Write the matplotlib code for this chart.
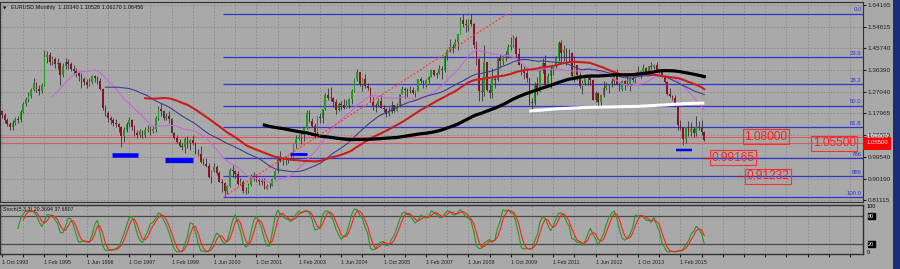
import numpy as np
import pandas as pd
import matplotlib
matplotlib.use("Agg")
import matplotlib.pyplot as plt
from matplotlib.patches import Rectangle

plt.rcParams['font.family'] = ['Liberation Sans', 'DejaVu Sans']

# monthly EURUSD, Oct 1993 .. Nov 2015 (one row per calendar year)
closes = [
    1.175, 1.150, 1.135,
    1.120, 1.140, 1.155, 1.150, 1.185, 1.220, 1.240, 1.255, 1.280, 1.310, 1.285, 1.275,
    1.300, 1.420, 1.430, 1.400, 1.410, 1.390, 1.395, 1.345, 1.380, 1.400, 1.390, 1.370,
    1.360, 1.350, 1.340, 1.325, 1.315, 1.300, 1.315, 1.340, 1.330, 1.320, 1.285, 1.205,
    1.180, 1.160, 1.150, 1.140, 1.135, 1.120, 1.085, 1.110, 1.135, 1.150, 1.120, 1.095,
    1.090, 1.105, 1.090, 1.110, 1.115, 1.105, 1.115, 1.160, 1.200, 1.190, 1.160, 1.170,
    1.158, 1.0985, 1.077, 1.057, 1.042, 1.035, 1.070, 1.053, 1.068, 1.056, 1.009, 1.007,
    0.971, 0.966, 0.956, 0.910, 0.933, 0.952, 0.927, 0.889, 0.884, 0.850, 0.869, 0.940,
    0.936, 0.922, 0.881, 0.887, 0.848, 0.849, 0.877, 0.912, 0.913, 0.901, 0.890, 0.888,
    0.860, 0.869, 0.872, 0.902, 0.933, 0.986, 0.977, 0.981, 0.986, 0.989, 0.992, 1.049,
    1.073, 1.078, 1.090, 1.117, 1.181, 1.149, 1.125, 1.099, 1.164, 1.160, 1.200, 1.259,
    1.246, 1.246, 1.230, 1.196, 1.220, 1.217, 1.202, 1.217, 1.243, 1.275, 1.327, 1.355,
    1.304, 1.325, 1.296, 1.287, 1.230, 1.210, 1.215, 1.234, 1.205, 1.199, 1.179, 1.184,
    1.216, 1.192, 1.211, 1.262, 1.282, 1.279, 1.277, 1.281, 1.267, 1.276, 1.325, 1.320,
    1.302, 1.323, 1.335, 1.366, 1.345, 1.354, 1.369, 1.365, 1.426, 1.449, 1.462, 1.459,
    1.486, 1.518, 1.578, 1.560, 1.555, 1.576, 1.561, 1.470, 1.410, 1.276, 1.270, 1.397,
    1.280, 1.267, 1.325, 1.323, 1.415, 1.404, 1.426, 1.433, 1.464, 1.472, 1.501, 1.433,
    1.387, 1.363, 1.351, 1.329, 1.229, 1.223, 1.305, 1.270, 1.363, 1.394, 1.299, 1.338,
    1.369, 1.380, 1.416, 1.481, 1.439, 1.450, 1.439, 1.437, 1.339, 1.387, 1.345, 1.296,
    1.308, 1.333, 1.334, 1.324, 1.237, 1.266, 1.230, 1.258, 1.286, 1.296, 1.299, 1.319,
    1.358, 1.306, 1.282, 1.317, 1.299, 1.301, 1.330, 1.322, 1.352, 1.358, 1.359, 1.375,
    1.349, 1.380, 1.377, 1.387, 1.363, 1.369, 1.339, 1.313, 1.263, 1.253, 1.245, 1.210,
    1.129, 1.119, 1.073, 1.122, 1.099, 1.115, 1.098, 1.121, 1.118, 1.100, 1.0646,
]
highs = [
    1.195, 1.180, 1.160,
    1.145, 1.150, 1.165, 1.170, 1.195, 1.230, 1.250, 1.270, 1.290, 1.330, 1.315, 1.300,
    1.310, 1.450, 1.445, 1.440, 1.425, 1.420, 1.415, 1.400, 1.395, 1.415, 1.410, 1.400,
    1.385, 1.375, 1.360, 1.350, 1.335, 1.325, 1.330, 1.345, 1.345, 1.340, 1.330, 1.290,
    1.215, 1.190, 1.170, 1.160, 1.155, 1.140, 1.125, 1.120, 1.145, 1.165, 1.155, 1.130,
    1.110, 1.115, 1.110, 1.120, 1.130, 1.125, 1.125, 1.170, 1.210, 1.225, 1.195, 1.180,
    1.190, 1.162, 1.100, 1.089, 1.071, 1.053, 1.079, 1.083, 1.071, 1.088, 1.060, 1.029,
    1.041, 0.989, 0.990, 0.970, 0.938, 0.969, 0.959, 0.934, 0.901, 0.887, 0.873, 0.946,
    0.959, 0.939, 0.933, 0.905, 0.896, 0.866, 0.882, 0.920, 0.932, 0.923, 0.905, 0.906,
    0.903, 0.879, 0.885, 0.905, 0.937, 0.999, 1.018, 0.990, 0.999, 0.993, 1.014, 1.051,
    1.089, 1.093, 1.108, 1.120, 1.193, 1.193, 1.160, 1.141, 1.168, 1.181, 1.200, 1.265,
    1.290, 1.293, 1.248, 1.241, 1.229, 1.232, 1.242, 1.239, 1.244, 1.282, 1.332, 1.367,
    1.356, 1.329, 1.348, 1.310, 1.293, 1.249, 1.226, 1.246, 1.260, 1.215, 1.203, 1.209,
    1.233, 1.216, 1.224, 1.264, 1.298, 1.293, 1.288, 1.296, 1.291, 1.281, 1.328, 1.337,
    1.323, 1.328, 1.339, 1.368, 1.364, 1.356, 1.385, 1.381, 1.428, 1.453, 1.497, 1.475,
    1.495, 1.520, 1.591, 1.602, 1.582, 1.580, 1.604, 1.565, 1.487, 1.417, 1.331, 1.472,
    1.400, 1.305, 1.374, 1.344, 1.415, 1.434, 1.430, 1.445, 1.477, 1.506, 1.514, 1.510,
    1.458, 1.396, 1.382, 1.370, 1.330, 1.247, 1.312, 1.333, 1.368, 1.416, 1.428, 1.350,
    1.386, 1.386, 1.425, 1.488, 1.494, 1.470, 1.458, 1.455, 1.441, 1.425, 1.387, 1.356,
    1.324, 1.349, 1.339, 1.337, 1.328, 1.275, 1.269, 1.264, 1.317, 1.314, 1.301, 1.331,
    1.359, 1.371, 1.312, 1.324, 1.324, 1.342, 1.335, 1.345, 1.357, 1.383, 1.362, 1.389,
    1.378, 1.382, 1.397, 1.391, 1.399, 1.370, 1.370, 1.344, 1.320, 1.289, 1.260, 1.257,
    1.210, 1.153, 1.123, 1.124, 1.146, 1.144, 1.121, 1.171, 1.146, 1.150, 1.1053,
]
lows = [
    1.160, 1.140, 1.125,
    1.110, 1.110, 1.130, 1.140, 1.145, 1.180, 1.210, 1.230, 1.245, 1.275, 1.270, 1.260,
    1.265, 1.295, 1.395, 1.385, 1.385, 1.375, 1.370, 1.300, 1.335, 1.370, 1.370, 1.360,
    1.345, 1.335, 1.320, 1.290, 1.300, 1.290, 1.295, 1.305, 1.315, 1.305, 1.280, 1.195,
    1.170, 1.145, 1.135, 1.125, 1.120, 1.100, 1.035, 1.060, 1.100, 1.120, 1.110, 1.085,
    1.075, 1.080, 1.075, 1.080, 1.100, 1.090, 1.095, 1.100, 1.150, 1.170, 1.150, 1.150,
    1.139, 1.096, 1.069, 1.055, 1.037, 1.023, 1.012, 1.031, 1.022, 1.047, 1.005, 0.999,
    0.968, 0.961, 0.951, 0.903, 0.884, 0.931, 0.916, 0.887, 0.845, 0.823, 0.836, 0.865,
    0.908, 0.905, 0.874, 0.873, 0.843, 0.835, 0.841, 0.871, 0.892, 0.888, 0.876, 0.876,
    0.858, 0.856, 0.862, 0.872, 0.899, 0.926, 0.973, 0.959, 0.962, 0.969, 0.986, 0.986,
    1.033, 1.068, 1.050, 1.062, 1.113, 1.142, 1.120, 1.077, 1.079, 1.140, 1.138, 1.195,
    1.235, 1.234, 1.209, 1.176, 1.190, 1.196, 1.200, 1.204, 1.205, 1.220, 1.273, 1.316,
    1.295, 1.276, 1.288, 1.278, 1.229, 1.195, 1.187, 1.208, 1.203, 1.187, 1.164, 1.171,
    1.182, 1.185, 1.192, 1.206, 1.263, 1.246, 1.248, 1.265, 1.263, 1.248, 1.275, 1.310,
    1.286, 1.293, 1.308, 1.333, 1.341, 1.330, 1.347, 1.326, 1.358, 1.408, 1.442, 1.437,
    1.458, 1.451, 1.517, 1.550, 1.528, 1.529, 1.552, 1.460, 1.388, 1.233, 1.232, 1.256,
    1.274, 1.246, 1.245, 1.288, 1.320, 1.375, 1.386, 1.404, 1.418, 1.449, 1.462, 1.422,
    1.386, 1.344, 1.327, 1.312, 1.214, 1.188, 1.215, 1.259, 1.269, 1.352, 1.297, 1.294,
    1.287, 1.343, 1.374, 1.404, 1.397, 1.402, 1.384, 1.405, 1.336, 1.315, 1.321, 1.286,
    1.262, 1.301, 1.300, 1.300, 1.235, 1.229, 1.204, 1.213, 1.251, 1.280, 1.266, 1.292,
    1.300, 1.302, 1.275, 1.274, 1.279, 1.298, 1.275, 1.314, 1.310, 1.348, 1.329, 1.353,
    1.348, 1.348, 1.370, 1.367, 1.359, 1.350, 1.337, 1.311, 1.257, 1.250, 1.236, 1.210,
    1.110, 1.110, 1.046, 1.052, 1.082, 1.082, 1.081, 1.085, 1.109, 1.089, 1.0617,
]
first_open = 1.190

date_labels = ["1 Oct 1993", "1 Feb 1995", "1 Jun 1996", "1 Oct 1997", "1 Feb 1999",
               "1 Jun 2000", "1 Oct 2001", "1 Feb 2003", "1 Jun 2004", "1 Oct 2005",
               "1 Feb 2007", "1 Jun 2008", "1 Oct 2009", "1 Feb 2011", "1 Jun 2012",
               "1 Oct 2013", "1 Feb 2015"]
price_ticks = [1.64165, 1.54815, 1.45740, 1.36390, 1.27040, 1.17965, 1.08890,
               0.99540, 0.90190, 0.81115]

ma_periods = [20, 40, 55, 100]
fib_high, fib_low = 1.6038, 0.8228
fib_levels = [0.0, 23.6, 38.2, 50.0, 61.8, 78.6, 88.6, 100.0]
fib_names = ["0.0", "23.6", "38.2", "50.0", "61.8", "786", "886", "100.0"]
red_levels = [1.08, 1.055]
# (first month, last month, price, thickness px)
support_marks = [(41.4, 51.4, 1.003, 4.5), (61.5, 72.1, 0.981, 5.3),
                 (108.7, 115.1, 1.009, 3.0), (254.3, 260.4, 1.022, 2.5)]
trend_pts = [(84, 0.827), (190.5, 1.603)]
white_pts = [(199, 1.190), (210, 1.200), (222, 1.206), (240, 1.210),
             (250, 1.216), (258, 1.222), (265, 1.224)]
# (text, month of box centre, price, short line start, short line end)
level_boxes = [("1.08000", 288.3, 1.080, None, None),
               ("1.05500", 314.0, 1.052, None, None),
               ("0.99165", 276.0, 0.99165, 264.6, 266.9),
               ("0.91232", 289.0, 0.91232, 277.4, 279.7)]

BG = '#a9a9a9'
n = len(closes)
x = np.arange(n)
c = np.array(closes)
o = np.concatenate([[first_open], c[:-1]])
h = np.maximum(np.array(highs), np.maximum(o, c))
l = np.minimum(np.array(lows), np.minimum(o, c))

fig = plt.figure(figsize=(9, 2.69), dpi=100, facecolor=BG)
ax = fig.add_axes([0, 1 - 202 / 269, 863 / 900, 200 / 269], facecolor=BG)
ax2 = fig.add_axes([0, 1 - 254 / 269, 863 / 900, 49 / 269], facecolor=BG)
xl = (-0.75, 324.9)

# ---- main price panel
ax.set_xlim(xl)
ax.set_ylim(0.8026, 1.6544)
ax.yaxis.tick_right()
ax.set_yticks(price_ticks)
ax.set_yticklabels(["%.5f" % p for p in price_ticks], fontsize=4.6)
ax.tick_params(axis='y', length=2, pad=1.5, colors='#202020')
ax.set_xticks(range(0, 325, 8))
ax.tick_params(axis='x', length=0, labelbottom=False)
ax.grid(True, color='#8a8a8a', linestyle=(0, (2, 2)), linewidth=0.6)
for s in ax.spines.values():
    s.set_color('#303030')
    s.set_linewidth(0.8)

for lv, nm in zip(fib_levels, fib_names):
    p = fib_high - lv / 100 * (fib_high - fib_low)
    ax.hlines(p, 83.5, xl[1], color='#3434d0', lw=0.9, zorder=2)
    ax.text(xl[1] - 0.5, p + 0.006, nm, ha='right', va='bottom', fontsize=4.3,
            color='#3434d0', zorder=2)

for p in red_levels:
    ax.axhline(p, color='#e05858', lw=0.8, zorder=2)

up = c >= o
body_lo = np.minimum(o, c)
body_h = np.maximum(np.abs(c - o), 0.002)
ax.vlines(x, l, h, color='#333333', lw=0.6, zorder=3)
ax.bar(x, body_h, bottom=body_lo, width=0.62,
       color=np.where(up, '#1f9a1f', '#8c1028'), zorder=3.1, linewidth=0)

ma_style = {20: ('#c46ad6', 0.8), 40: ('#3f3f8f', 0.8),
            55: ('#c81e1e', 1.5), 100: ('#000000', 2.3)}
cs = pd.Series(c)
for per in ma_periods:
    col, lw = ma_style[per]
    ax.plot(x, cs.rolling(per).mean(), color=col, lw=lw, zorder=4)

ax.plot([p[0] for p in white_pts], [p[1] for p in white_pts], color='white',
        lw=2.2, zorder=4.2, solid_capstyle='butt')
ax.plot([p[0] for p in trend_pts], [p[1] for p in trend_pts], color='#ff3a3a',
        lw=0.9, linestyle=(0, (1.5, 1.5)), zorder=4.1)

for x0, x1, p, th in support_marks:
    ax.hlines(p, x0, x1, color='#0000ff', lw=th * 0.72, zorder=4.5)

for txt, xm, p, s0, s1 in level_boxes:
    if s0 is not None:
        ax.hlines(p, s0, s1, color='#c01818', lw=0.9, zorder=5)
    ax.text(xm, p, txt, ha='center', va='center', fontsize=8.6, color='#ff2020',
            zorder=6, bbox=dict(boxstyle='square,pad=0.12', fc='none',
                                ec='#ff3030', lw=0.8))

# red price tag on the axis
ax.add_patch(Rectangle((1.0, 1.0795 - 0.0), 0.032, -0.0555 + 0.0, facecolor='#ff0000',
                       edgecolor='none', transform=ax.get_yaxis_transform(),
                       clip_on=False, zorder=7))
for p in red_levels:
    ax.text(1.004, p, "%.5f" % p, transform=ax.get_yaxis_transform(),
            fontsize=4.3, color='white', va='center', ha='left', zorder=8,
            clip_on=False)

fig.text(11 / 900, 1 - 8 / 269, "EURUSD,Monthly  1.10340 1.10528 1.06170 1.06456",
         fontsize=4.0, va='center', color='#101010')
fig.text(3 / 900, 1 - 8 / 269, "\u25bc", fontsize=3.2, va='center',
         family=['DejaVu Sans'], color='#101010')

# ---- stochastic panel
hh = pd.Series(h).rolling(5).max()
ll = pd.Series(l).rolling(5).min()
k = 100 * (cs - ll).rolling(3).sum() / (hh - ll).rolling(3).sum()
d = k.rolling(3).mean()

ax2.set_xlim(xl)
ax2.set_ylim(-1.4, 103.6)
ax2.axhline(80, color='#4a4a4a', lw=0.9)
ax2.axhline(20, color='#4a4a4a', lw=0.9)
ax2.plot(x, k, color='#1f9a1f', lw=0.8, zorder=3)
ax2.plot(x, d, color='#ff2020', lw=0.8, zorder=3.1)
ax2.set_yticks([])
ticks = list(range(0, 325, 8))
ax2.set_xticks(ticks)
lab_map = dict(zip(range(0, 257, 16), date_labels))
ax2.set_xticklabels([lab_map.get(t, "") for t in ticks], fontsize=3.8,
                    ha='left', color='#101010')
ax2.tick_params(axis='x', length=2, pad=2.5, colors='#202020')
ax2.grid(True, axis='x', color='#8a8a8a', linestyle=(0, (2, 2)), linewidth=0.6)
for s in ax2.spines.values():
    s.set_color('#303030')
    s.set_linewidth(1.0)
ax2.text(0.004, 0.9, "Stoch(5,3,3) 20.3694 37.6807", transform=ax2.transAxes,
         fontsize=3.8, va='center', color='#101010')
yt = ax2.get_yaxis_transform()
ax2.text(1.004, 100, "100", transform=yt, fontsize=4.0, va='center', clip_on=False)
ax2.text(1.004, 1, "0", transform=yt, fontsize=4.0, va='center', clip_on=False)
for v in (80, 20):
    ax2.text(1.006, v, str(v), transform=yt, fontsize=4.0, va='center',
             color='white', clip_on=False,
             bbox=dict(boxstyle='square,pad=0.1', fc='black', ec='black'))

fig.patches.append(Rectangle((893 / 900, 0), 7 / 900, 1, transform=fig.transFigure,
                             facecolor='#1b2c7c', edgecolor='none'))

fig.savefig("out.png", dpi=100, facecolor=BG)
